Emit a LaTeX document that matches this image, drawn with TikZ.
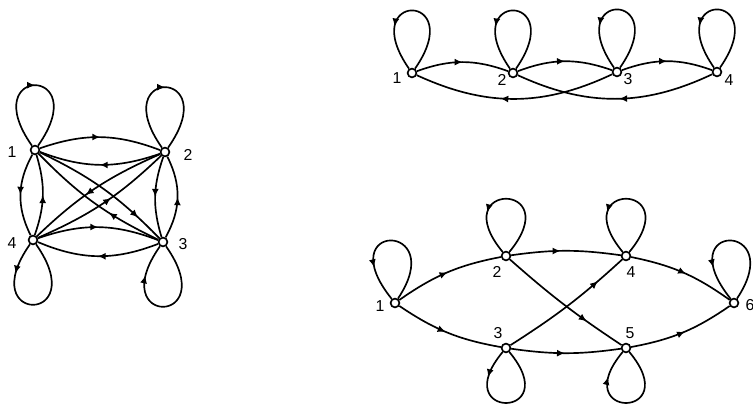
\documentclass[tikz,border=0pt]{standalone}
\usepackage{fontspec}
\setsansfont{Liberation Sans}
\usepackage{tikz}
\usetikzlibrary{arrows.meta,decorations.markings}

\begin{document}
\begin{tikzpicture}[x=0.02cm,y=0.02cm,line width=0.95pt,
	vtx/.style={circle,draw,fill=white,inner sep=0pt,minimum size=5pt},
	lbl/.style={font=\sffamily\fontsize{9}{10}\selectfont,inner sep=0pt},
	midarrow/.style={postaction={decorate},decoration={markings,mark=at position #1 with {\arrow{Latex[length=4.5pt,width=4pt]}}}},
	midarrow/.default=0.5]
	\useasboundingbox (0,0) rectangle (753,415);
	% left: four vertices, every ordered pair
	\node[vtx] (a1) at (35,265) {};
	\node[vtx] (a2) at (165,263) {};
	\node[vtx] (a3) at (163,173) {};
	\node[vtx] (a4) at (33,175) {};
	\node[lbl] (la1) at (12,263) {1};
	\node[lbl] (la2) at (188,260) {2};
	\node[lbl] (la3) at (183,171) {3};
	\node[lbl] (la4) at (12,172) {4};
	\draw[midarrow] (a1) to[bend left=20] (a2);
	\draw[midarrow] (a2) to[bend left=20] (a1);
	\draw[midarrow] (a1) to[bend right=28] (a4);
	\draw[midarrow] (a4) to[bend right=18] (a1);
	\draw[midarrow] (a2) to[bend right=18] (a3);
	\draw[midarrow] (a3) to[bend right=28] (a2);
	\draw[midarrow] (a4) to[bend left=20] (a3);
	\draw[midarrow] (a3) to[bend left=22] (a4);
	\draw[midarrow=0.8] (a1) to[bend left=10] (a3);
	\draw[midarrow=0.38] (a3) to[bend left=10] (a1);
	\draw[midarrow=0.57] (a2) to[bend right=10] (a4);
	\draw[midarrow=0.56] (a4) to[bend right=10] (a2);
	\draw[midarrow] (a1) .. controls +(-60,85) and +(60,85) .. (a1);
	\draw[midarrow] (a2) .. controls +(-60,85) and +(60,85) .. (a2);
	\draw[midarrow=0.22] (a4) .. controls +(-60,-85) and +(60,-85) .. (a4);
	\draw[midarrow=0.78] (a3) .. controls +(60,-85) and +(-60,-85) .. (a3);
	% top: chain of four
	\node[vtx] (b1) at (412,342) {};
	\node[vtx] (b2) at (513,342) {};
	\node[vtx] (b3) at (617,343) {};
	\node[vtx] (b4) at (717,343) {};
	\node[lbl] (lb1) at (397,337) {1};
	\node[lbl] (lb2) at (502,335) {2};
	\node[lbl] (lb3) at (628,336) {3};
	\node[lbl] (lb4) at (729,335) {4};
	\draw[midarrow] (b1) to[bend left=20] (b2);
	\draw[midarrow] (b2) to[bend left=20] (b3);
	\draw[midarrow] (b3) to[bend left=20] (b4);
	\draw[midarrow=0.57] (b3) to[bend left=25] (b1);
	\draw[midarrow=0.48] (b4) to[bend left=25] (b2);
	\foreach \v in {b1,b2,b3,b4}
		\draw[midarrow=0.68] (\v) .. controls +(57,82) and +(-57,82) .. (\v);
	% bottom: six vertices
	\node[vtx] (c1) at (395,112) {};
	\node[vtx] (c2) at (506,159) {};
	\node[vtx] (c3) at (506,67) {};
	\node[vtx] (c4) at (626,159) {};
	\node[vtx] (c5) at (626,67) {};
	\node[vtx] (c6) at (734,112) {};
	\node[lbl] (lc1) at (380,109) {1};
	\node[lbl] (lc2) at (497,143) {2};
	\node[lbl] (lc3) at (498,82) {3};
	\node[lbl] (lc4) at (631,143) {4};
	\node[lbl] (lc5) at (630,82) {5};
	\node[lbl] (lc6) at (750,110) {6};
	\draw[midarrow] (c1) to[bend left=12] (c2);
	\draw[midarrow=0.45] (c2) to[bend left=8] (c4);
	\draw[midarrow=0.53] (c4) to[bend left=12] (c6);
	\draw[midarrow=0.48] (c1) to[bend right=12] (c3);
	\draw[midarrow=0.49] (c3) to[bend right=8] (c5);
	\draw[midarrow=0.52] (c5) to[bend right=12] (c6);
	\draw[midarrow=0.7] (c2) to[bend right=4] (c5);
	\draw[midarrow=0.77] (c3) to[bend right=5] (c4);
	\foreach \v in {c1,c6}
		\draw[midarrow=0.75] (\v) .. controls +(55,82) and +(-66,82) .. (\v);
	\foreach \v in {c2,c4}
		\draw[midarrow=0.68] (\v) .. controls +(62,75) and +(-62,75) .. (\v);
	\draw[midarrow=0.22] (c3) .. controls +(-60,-72) and +(60,-72) .. (c3);
	\draw[midarrow=0.78] (c5) .. controls +(60,-72) and +(-60,-72) .. (c5);
\end{tikzpicture}
\end{document}
